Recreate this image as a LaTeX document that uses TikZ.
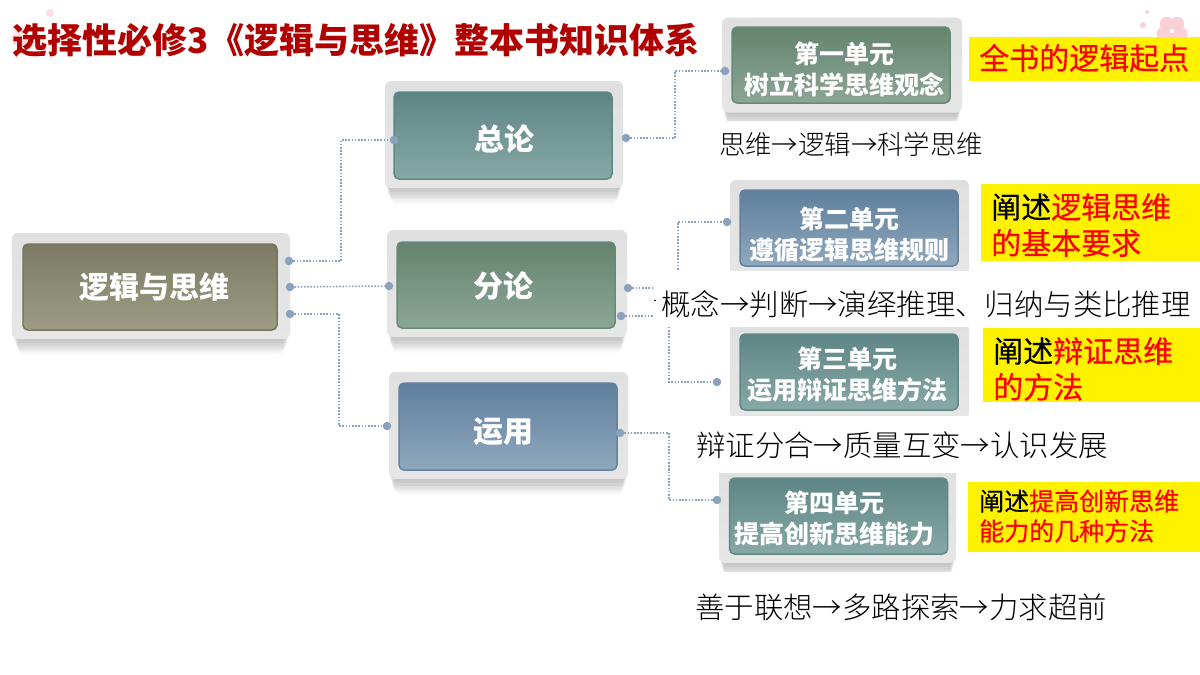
\documentclass[tikz,border=0pt]{standalone}
\usepackage{fontspec}
\usepackage{tikz}
\usetikzlibrary{shadows}
\newfontfamily\cjk{Noto Sans CJK SC}
\newfontfamily\cjkfat[FakeBold=0.35]{Noto Sans CJK SC}
\newfontfamily\cjkthin{Noto Sans CJK SC Light}

\definecolor{linkblue}{HTML}{8AA2BD}
\definecolor{titlered}{HTML}{B00000}
\definecolor{blossom}{HTML}{F8D0D5}
\definecolor{frametop}{HTML}{E0E0E0}
\definecolor{framemid}{HTML}{F4F4F4}
\definecolor{framelow}{HTML}{E6E6E6}
\definecolor{olivee}{HTML}{77765F}\definecolor{olivet}{HTML}{7B7A63}\definecolor{oliveb}{HTML}{9D9C85}
\definecolor{teale}{HTML}{5F8888}\definecolor{tealt}{HTML}{5E8585}\definecolor{tealb}{HTML}{87A9A6}
\definecolor{sagee}{HTML}{688A75}\definecolor{saget}{HTML}{66836F}\definecolor{sageb}{HTML}{8BA696}
\definecolor{slatee}{HTML}{64829F}\definecolor{slatet}{HTML}{5F7F9C}\definecolor{slateb}{HTML}{8FA8BD}

\tikzset{
  frame/.style={rounded corners=6pt, top color=frametop, middle color=framemid, bottom color=framelow,
    general shadow={fill=black, opacity=.04, shadow yshift=-2pt, shadow scale=.99},
    general shadow={fill=black, opacity=.04, shadow yshift=-5pt, shadow scale=.985},
    general shadow={fill=black, opacity=.04, shadow yshift=-8pt, shadow scale=.98},
    general shadow={fill=black, opacity=.035, shadow yshift=-11pt, shadow scale=.975},
    general shadow={fill=black, opacity=.03, shadow yshift=-13pt, shadow scale=.97},
    general shadow={fill=black, opacity=.025, shadow yshift=-15pt, shadow scale=.965},
    general shadow={fill=black, opacity=.02, shadow yshift=-17pt, shadow scale=.96},
    general shadow={fill=black, opacity=.02, shadow yshift=-19pt, shadow scale=.955}},
  plate/.style={rounded corners=5pt, line width=1.5pt},
  plateword/.style={text=white, align=center, inner sep=0pt, font=\cjk\bfseries\fontsize{30}{36}\selectfont},
  unitword/.style={plateword, font=\cjk\bfseries\fontsize{25}{31}\selectfont},
  olive/.style={draw=olivee, top color=olivet, bottom color=oliveb},
  teal/.style={draw=teale, top color=tealt, bottom color=tealb},
  sage/.style={draw=sagee, top color=saget, bottom color=sageb},
  slate/.style={draw=slatee, top color=slatet, bottom color=slateb},
  dot/.style={circle, fill=linkblue, minimum size=8.5pt, inner sep=0pt},
  link/.style={draw=linkblue, line width=1.6pt, dash pattern=on 1.6pt off 1.6pt},
  tag/.style={fill=yellow, inner sep=0pt, anchor=north west},
  tagword/.style={text=red, inner sep=0pt, align=left, anchor=west, font=\cjkfat\fontsize{30}{36}\selectfont},
  steps/.style={text=black, font=\cjkthin\fontsize{29.4}{34}\selectfont, inner sep=0pt}
}

\begin{document}
\begin{tikzpicture}[x=1pt, y=-1pt]
    \useasboundingbox (0,0) rectangle (1200,675);
    \fill[white] (0,0) rectangle (1200,675);

    % blossoms
    \fill[blossom, opacity=.7] (50,13) circle (4);
    \fill[blossom, opacity=.5] (20,38) circle (9);
    \fill[blossom, opacity=.5] (30,42) circle (7);
    \fill[blossom] (1147,12) circle (2);
    \fill[blossom] (1143,25) circle (3);
    \foreach \a in {90,162,234,306,18}
        \fill[blossom] (1172,31) ++(\a:9) circle (7);

    \node (title) at (356,40) [text=titlered, font=\cjk\bfseries\fontsize{35}{40}\selectfont, inner sep=0pt] {选择性必修3《逻辑与思维》整本书知识体系};

    % frames
    \node (rootF) at (151,286) [frame, minimum width=278pt, minimum height=106pt] {};
    \node (zonglunF) at (504,134.5) [frame, minimum width=238pt, minimum height=107pt] {};
    \node (fenlunF) at (507,283.5) [frame, minimum width=240pt, minimum height=107pt] {};
    \node (yunyongF) at (508.5,425.5) [frame, minimum width=239pt, minimum height=107pt] {};
    \node (unitaF) at (842,65) [frame, minimum width=240pt, minimum height=95pt] {};
    \node (unitbF) at (849.5,228.5) [frame, minimum width=239pt, minimum height=97pt] {};
    \node (unitcF) at (849.5,371) [frame, minimum width=239pt, minimum height=96pt] {};
    \node (unitdF) at (837.5,515) [frame, minimum width=237pt, minimum height=96pt] {};

    % plates
    \node (root) at (150,287) [plate, olive, minimum width=254pt, minimum height=86pt] {};
    \node (zonglun) at (503,135.5) [plate, teal, minimum width=218pt, minimum height=87pt] {};
    \node (fenlun) at (506,285) [plate, sage, minimum width=218pt, minimum height=86pt] {};
    \node (yunyong) at (508,426.5) [plate, slate, minimum width=218pt, minimum height=87pt] {};
    \node (unita) at (841,65) [plate, sage, minimum width=218pt, minimum height=76pt] {};
    \node (unitb) at (849,228) [plate, slate, minimum width=218pt, minimum height=76pt] {};
    \node (unitc) at (849,372) [plate, teal, minimum width=218pt, minimum height=76pt] {};
    \node (unitd) at (838.5,516) [plate, teal, minimum width=218pt, minimum height=76pt] {};

    % words on the plates
    \node (rootW) at (154,287) [plateword] {逻辑与思维};
    \node (zonglunW) at (504,139) [plateword] {总论};
    \node (fenlunW) at (503,286) [plateword] {分论};
    \node (yunyongW) at (503,432) [plateword] {运用};
    \node (unitaW) at (844,69) [unitword] {第一单元\\树立科学思维观念};
    \node (unitbW) at (849,235) [unitword] {第二单元\\遵循逻辑思维规则};
    \node (unitcW) at (847,375) [unitword] {第三单元\\运用辩证思维方法};
    \node (unitdW) at (834,518) [unitword] {第四单元\\提高创新思维能力};

    % dots
    \node (rootA) at (289,261) [dot] {};
    \node (rootB) at (290,287) [dot] {};
    \node (rootC) at (290,314) [dot] {};
    \node (zonglunL) at (394,140) [dot] {};
    \node (zonglunR) at (626,138) [dot] {};
    \node (fenlunL) at (389,286) [dot] {};
    \node (fenlunA) at (628,288) [dot] {};
    \node (fenlunB) at (621,316) [dot] {};
    \node (yunyongL) at (387,426) [dot] {};
    \node (yunyongR) at (620,433) [dot] {};
    \node (unitaL) at (725,71) [dot] {};
    \node (unitbL) at (727,222) [dot] {};
    \node (unitcL) at (717,382) [dot] {};
    \node (unitdL) at (717,500) [dot] {};

    % bends
    \coordinate (bendA) at (341,200);
    \coordinate (bendB) at (339,370);
    \coordinate (bendC) at (675,100);
    \coordinate (bendD) at (678,250);
    \coordinate (bendE) at (669,350);
    \coordinate (bendF) at (669,470);

    \draw[link] (rootA) -| (bendA) |- (zonglunL);
    \draw[link] (rootB) -- (fenlunL);
    \draw[link] (rootC) -| (bendB) |- (yunyongL);
    \draw[link] (zonglunR) -| (bendC) |- (unitaL);
    \draw[link] (fenlunA) -| (bendD) |- (unitbL);
    \draw[link] (fenlunB) -| (bendE) |- (unitcL);
    \draw[link] (yunyongR) -| (bendF) |- (unitdL);

    % white strips behind the step lines
    \fill[white] (705,121) rectangle (995,165);
    \fill[white] (653,271) rectangle (1198,327);
    \fill[white] (690,416) rectangle (1115,473);
    \fill[white] (690,572) rectangle (1115,630);
    \fill[black] (654,299.5) rectangle (656,300.5);

    \node (stepa) at (851,144) [steps, font=\cjkthin\fontsize{26.4}{30}\selectfont] {思维→逻辑→科学思维};
    \node (stepb) at (926,304) [steps] {概念→判断→演绎推理、归纳与类比推理};
    \node (stepc) at (902,445) [steps] {辩证分合→质量互变→认识发展};
    \node (stepd) at (901,607) [steps] {善于联想→多路探索→力求超前};

    % yellow notes
    \node (notea) at (969,37) [tag, minimum width=231pt, minimum height=44pt] {};
    \node (noteb) at (981,184) [tag, minimum width=219pt, minimum height=77pt] {};
    \node (notec) at (983,328) [tag, minimum width=217pt, minimum height=74pt] {};
    \node (noted) at (968,482) [tag, minimum width=232pt, minimum height=70pt] {};

    \node (noteaW) at (979,58) [tagword] {全书的逻辑起点};
    \node (notebW) at (991,225) [tagword] {{\color{black}阐述}逻辑思维\\的基本要求};
    \node (notecW) at (993,369) [tagword] {{\color{black}阐述}辩证思维\\的方法};
    \node (notedW) at (979,516) [tagword, font=\cjkfat\fontsize{25}{30}\selectfont] {{\color{black}阐述}提高创新思维\\能力的几种方法};
\end{tikzpicture}
\end{document}
